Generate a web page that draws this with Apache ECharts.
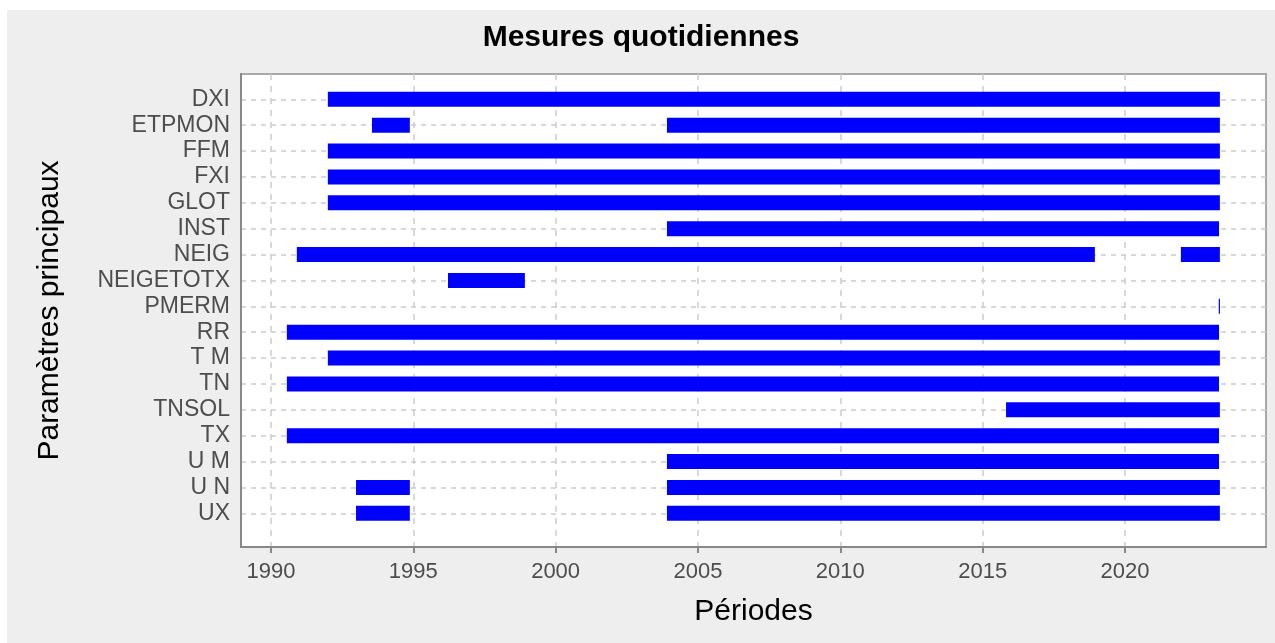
<!DOCTYPE html>
<html>
<head>
<meta charset="utf-8">
<script src="https://cdn.jsdelivr.net/npm/echarts@6/dist/echarts.min.js"></script>
<style>
  html, body { margin: 0; padding: 0; background: #ffffff; }
  #chart { position: absolute; left: 7px; top: 10px; width: 1268px; height: 633px; }
</style>
</head>
<body>
<div id="chart"></div>
<script>
// Parameters, top to bottom
const params = ['DXI', 'ETPMON', 'FFM', 'FXI', 'GLOT', 'INST', 'NEIG', 'NEIGETOTX', 'PMERM',
  'RR', 'TM', 'TN', 'TNSOL', 'TX', 'UM', 'UN', 'UX'];
const paramLabels = ['DXI', 'ETPMON', 'FFM', 'FXI', 'GLOT', 'INST', 'NEIG', 'NEIGETOTX', 'PMERM',
  'RR', 'T M', 'TN', 'TNSOL', 'TX', 'U M', 'U N', 'UX'];

// Measurement periods (decimal years), one entry per segment
const segParam = ['DXI', 'ETPMON', 'ETPMON', 'FFM', 'FXI', 'GLOT', 'INST', 'NEIG', 'NEIG',
  'NEIGETOTX', 'PMERM', 'RR', 'TM', 'TN', 'TNSOL', 'TX', 'UM', 'UN', 'UN', 'UX', 'UX'];
const segStart = [1992.0, 1993.55, 2003.91, 1992.0, 1992.0, 1992.0, 2003.91, 1990.91, 2021.96,
  1996.22, 2023.29, 1990.56, 1992.0, 1990.56, 2015.82, 1990.56, 2003.91, 1992.99, 2003.91, 1992.99, 2003.91];
const segEnd = [2023.33, 1994.88, 2023.33, 2023.33, 2023.33, 2023.33, 2023.30, 2018.94, 2023.33,
  1998.92, 2023.31, 2023.30, 2023.33, 2023.30, 2023.33, 2023.30, 2023.30, 1994.88, 2023.33, 1994.88, 2023.33];

const yearTicks = [1990, 1995, 2000, 2005, 2010, 2015, 2020];

const rowIndex = params.map((p, i) => i);
const segData = segParam.map((p, i) => [params.indexOf(p), segStart[i], segEnd[i]]);

const chart = echarts.init(document.getElementById('chart'));
const font = 'Liberation Sans, Arial, sans-serif';

chart.setOption({
  backgroundColor: '#eeeeee',
  animation: false,
  title: {
    text: 'Mesures quotidiennes',
    left: 'center',
    top: 8,
    textStyle: { fontFamily: font, fontSize: 30, fontWeight: 'bold', color: '#000000' }
  },
  grid: {
    left: 234, right: 9, top: 64, bottom: 96,
    show: true, backgroundColor: '#ffffff', borderColor: '#a8a8a8', borderWidth: 2
  },
  xAxis: {
    type: 'value',
    min: 1988.95,
    max: 2024.95,
    name: 'Périodes',
    nameLocation: 'middle',
    nameGap: 50,
    nameTextStyle: { fontFamily: font, fontSize: 30, color: '#000000' },
    axisLine: { show: true, onZero: false, lineStyle: { color: '#888888', width: 2 } },
    axisTick: { show: true, length: 6, customValues: yearTicks, lineStyle: { color: '#888888', width: 2 } },
    axisLabel: {
      customValues: yearTicks, margin: 14, fontFamily: font, fontSize: 22, color: '#4d4d4d',
      formatter: (v) => String(v)
    },
    splitLine: { show: true, lineStyle: { color: '#cccccc', width: 1.5, type: [6, 6] } }
  },
  yAxis: {
    type: 'value',
    inverse: true,
    min: -0.98,
    max: 17.3,
    name: 'Paramètres principaux',
    nameLocation: 'middle',
    nameGap: 176,
    nameTextStyle: { fontFamily: font, fontSize: 30, color: '#000000' },
    axisLine: { show: true, onZero: false, lineStyle: { color: '#888888', width: 2 } },
    axisTick: { show: false, customValues: rowIndex },
    axisLabel: {
      customValues: rowIndex,
      margin: 11,
      fontFamily: font, fontSize: 23, color: '#4d4d4d',
      formatter: (v) => paramLabels[Math.round(v)]
    },
    splitLine: { show: true, lineStyle: { color: '#cccccc', width: 1.5, type: [5, 5] } }
  },
  series: [{
    type: 'custom',
    data: segData,
    encode: { x: [1, 2], y: 0 },
    renderItem: (ctx, api) => {
      const a = api.coord([api.value(1), api.value(0)]);
      const b = api.coord([api.value(2), api.value(0)]);
      const h = 15;
      return {
        type: 'rect',
        shape: { x: a[0], y: a[1] - h / 2, width: Math.max(b[0] - a[0], 1.2), height: h },
        style: { fill: '#0000ff' }
      };
    }
  }]
});
</script>
</body>
</html>
